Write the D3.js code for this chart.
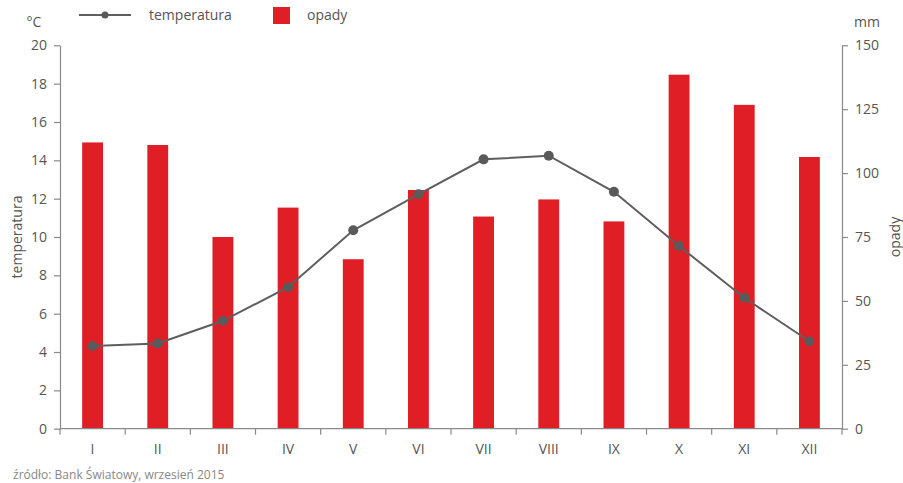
<!DOCTYPE html>
<html><head><meta charset="utf-8">
<script src="https://cdn.jsdelivr.net/npm/d3@7/dist/d3.min.js"></script>
<style>body{margin:0;background:#fff}svg{display:block}text{font-family:"Open Sans",sans-serif}</style>
</head><body>
<svg id="c" width="903" height="483"></svg>
<script>
const months = ["I","II","III","IV","V","VI","VII","VIII","IX","X","XI","XII"];
const temperatura = [4.31,4.45,5.63,7.38,10.35,12.23,14.05,14.24,12.36,9.53,6.83,4.56];
const opady = [112,111,75,86.5,66.3,93.4,83,89.7,81.1,138.5,126.7,106.3];
const tempTicks = [0,2,4,6,8,10,12,14,16,18,20];
const rainTicks = [0,25,50,75,100,125,150];

const svg = d3.select("#c");
const L=60, R=842, T=45.3, B=428.7;
const x = d3.scaleBand().domain(months).range([L,R]).paddingInner(0.68).paddingOuter(0.34);
const yT = d3.scaleLinear().domain([0,20]).range([B,T]);
const yR = d3.scaleLinear().domain([0,150]).range([B,T]);
const axisCol="#8a8a8a", textCol="#555";

// bars
svg.append("g").selectAll("rect").data(opady).join("rect")
  .attr("x",(d,i)=>x(months[i])).attr("width",x.bandwidth())
  .attr("y",d=>yR(d)).attr("height",d=>B-yR(d)).attr("fill","#e01e26");

// axes
function styleAxis(g){
  g.select(".domain").attr("stroke",axisCol).attr("stroke-width",1.2);
  g.selectAll(".tick line").attr("stroke",axisCol).attr("stroke-width",1.2);
  g.selectAll(".tick text").attr("fill",textCol).style("font-size","14px").style("font-family","Open Sans, sans-serif");
}
const gl = svg.append("g").attr("transform",`translate(${L},0)`)
  .call(d3.axisLeft(yT).tickValues(tempTicks).tickSize(6).tickSizeOuter(0).tickPadding(7));
styleAxis(gl);
const gr = svg.append("g").attr("transform",`translate(${R},0)`)
  .call(d3.axisRight(yR).tickValues(rainTicks).tickSize(6).tickSizeOuter(0).tickPadding(7));
styleAxis(gr);
// x axis with ticks between categories
const xb = svg.append("g").attr("transform",`translate(0,${B})`);
xb.append("line").attr("x1",L).attr("x2",R).attr("stroke",axisCol).attr("stroke-width",1.2);
const step = x.step();
xb.selectAll("line.t").data(d3.range(months.length+1)).join("line").attr("class","t")
  .attr("x1",i=>L+i*step).attr("x2",i=>L+i*step).attr("y1",0).attr("y2",6)
  .attr("stroke",axisCol).attr("stroke-width",1.2);
xb.selectAll("text").data(months).join("text")
  .attr("x",d=>x(d)+x.bandwidth()/2).attr("y",25).attr("text-anchor","middle")
  .attr("fill",textCol).style("font-size","14px").text(d=>d);

// line
const line = d3.line().x((d,i)=>x(months[i])+x.bandwidth()/2).y(d=>yT(d));
svg.append("path").datum(temperatura).attr("d",line).attr("fill","none")
  .attr("stroke","#5e5e5e").attr("stroke-width",2);
svg.append("g").selectAll("circle").data(temperatura).join("circle")
  .attr("cx",(d,i)=>x(months[i])+x.bandwidth()/2).attr("cy",d=>yT(d)).attr("r",5).attr("fill","#5a5a5a");

// units & titles
svg.append("text").attr("x",34).attr("y",27).attr("text-anchor","middle").attr("fill",textCol).style("font-size","14px").text("°C");
svg.append("text").attr("x",867).attr("y",27).attr("text-anchor","middle").attr("fill",textCol).style("font-size","14px").text("mm");
svg.append("text").attr("transform","translate(22,237) rotate(-90)").attr("text-anchor","middle").attr("fill",textCol).style("font-size","14px").text("temperatura");
svg.append("text").attr("transform","translate(900,237) rotate(-90)").attr("text-anchor","middle").attr("fill",textCol).style("font-size","14px").text("opady");

// legend
svg.append("line").attr("x1",79).attr("x2",131).attr("y1",15).attr("y2",15).attr("stroke","#5e5e5e").attr("stroke-width",2);
svg.append("circle").attr("cx",105).attr("cy",15).attr("r",3.5).attr("fill","#5a5a5a");
svg.append("text").attr("x",149).attr("y",20).attr("fill",textCol).style("font-size","14px").text("temperatura");
svg.append("rect").attr("x",273).attr("y",7).attr("width",17).attr("height",17).attr("fill","#e01e26");
svg.append("text").attr("x",307).attr("y",20).attr("fill",textCol).style("font-size","14px").text("opady");

// source
svg.append("text").attr("x",13).attr("y",479).attr("fill","#888").style("font-size","12px").text("źródło: Bank Światowy, wrzesień 2015");
</script>
</body></html>
